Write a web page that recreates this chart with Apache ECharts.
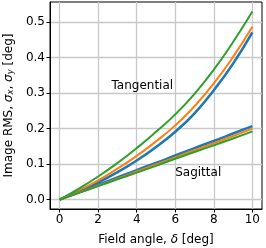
<!DOCTYPE html>
<html>
<head>
<meta charset="utf-8">
<script src="https://cdn.jsdelivr.net/npm/echarts@6/dist/echarts.min.js"></script>
<style>html,body{margin:0;padding:0;background:#fff}#c{width:266px;height:248px}</style>
</head>
<body>
<div id="c"></div>
<script>
var fieldAngle = [0, 1, 2, 3, 4, 5, 6, 7, 8, 9, 10];
var tanBlue   = [0, 0.023, 0.048, 0.077, 0.110, 0.148, 0.191, 0.243, 0.308, 0.383, 0.471];
var tanOrange = [0, 0.026, 0.054, 0.087, 0.123, 0.164, 0.209, 0.263, 0.327, 0.402, 0.487];
var tanGreen  = [0, 0.031, 0.065, 0.103, 0.145, 0.191, 0.240, 0.298, 0.366, 0.444, 0.530];
var sagBlue   = [0, 0.0205, 0.041, 0.062, 0.083, 0.103, 0.124, 0.145, 0.165, 0.186, 0.207];
var sagOrange = [0, 0.020, 0.039, 0.059, 0.079, 0.099, 0.119, 0.139, 0.159, 0.179, 0.200];
var sagGreen  = [0, 0.019, 0.038, 0.057, 0.076, 0.095, 0.115, 0.134, 0.153, 0.172, 0.192];
var xTicks = [0, 2, 4, 6, 8, 10];
var yTicks = [0, 0.1, 0.2, 0.3, 0.4, 0.5];

var C = {blue: '#1f77b4', orange: '#ff7f0e', green: '#2ca02c'};
function pairs(ys) { return fieldAngle.map(function (x, i) { return [x, ys[i]]; }); }
function line(ys, color, w) {
  return {type: 'line', data: pairs(ys), showSymbol: false, smooth: true, animation: false,
    lineStyle: {color: color, width: w || 2}, itemStyle: {color: color}};
}
var FONT = 'DejaVu Sans';
var chart = echarts.init(document.getElementById('c'), null, {renderer: 'canvas'});
chart.setOption({
  animation: false,
  grid: {left: 50, right: 4, top: 2, bottom: 39, containLabel: false, outerBoundsMode: 'none',
    show: true, borderColor: '#000', borderWidth: 1, backgroundColor: 'transparent'},
  xAxis: {
    type: 'value', min: -0.5, max: 10.5,
    name: 'Field angle, {i|δ} [deg]', nameLocation: 'middle', nameGap: 25,
    nameTextStyle: {fontFamily: FONT, fontSize: 12, color: '#000', rich: {i: {fontFamily: FONT, fontSize: 12, fontStyle: 'italic', color: '#000'}}},
    axisLine: {show: true, onZero: false, lineStyle: {color: '#000', width: 1}},
    axisTick: {show: true, length: 3.5, customValues: xTicks, lineStyle: {color: '#000'}},
    axisLabel: {customValues: xTicks, fontFamily: FONT, fontSize: 12, color: '#000', margin: 5},
    splitLine: {show: true, lineStyle: {color: '#c8c8c8', width: 1.3}}
  },
  yAxis: {
    type: 'value', min: -0.0265, max: 0.5565,
    name: 'Image RMS, {i|σ}{s|x}, {i|σ}{s|y} [deg]', nameLocation: 'middle', nameGap: 34,
    nameTextStyle: {fontFamily: FONT, fontSize: 12, color: '#000',
      rich: {i: {fontFamily: FONT, fontSize: 12, fontStyle: 'italic', color: '#000'},
             s: {fontFamily: FONT, fontSize: 8.5, fontStyle: 'italic', color: '#000', verticalAlign: 'bottom', padding: [4, 0, 0, 0]}}},
    axisLine: {show: true, onZero: false, lineStyle: {color: '#000', width: 1}},
    axisTick: {show: true, length: 3.5, customValues: yTicks, lineStyle: {color: '#000'}},
    axisLabel: {customValues: yTicks, fontFamily: FONT, fontSize: 12, color: '#000', margin: 5,
      formatter: function (v) { return v.toFixed(1); }},
    splitLine: {show: true, lineStyle: {color: '#c8c8c8', width: 1.3}}
  },
  series: [
    line(tanBlue, C.blue, 2.6), line(tanOrange, C.orange), line(tanGreen, C.green),
    line(sagBlue, C.blue, 2.6), line(sagOrange, C.orange), line(sagGreen, C.green)
  ]
});
function place() {
  var t = chart.convertToPixel({gridIndex: 0}, [4.29, 0.32]);
  var s = chart.convertToPixel({gridIndex: 0}, [7.19, 0.076]);
  chart.setOption({graphic: [
    {type: 'text', x: t[0], y: t[1], style: {text: 'Tangential', font: '12px "DejaVu Sans"', fill: '#000', align: 'center', verticalAlign: 'middle'}},
    {type: 'text', x: s[0], y: s[1], style: {text: 'Sagittal', font: '12px "DejaVu Sans"', fill: '#000', align: 'center', verticalAlign: 'middle'}}
  ]});
}
place();
</script>
</body>
</html>
